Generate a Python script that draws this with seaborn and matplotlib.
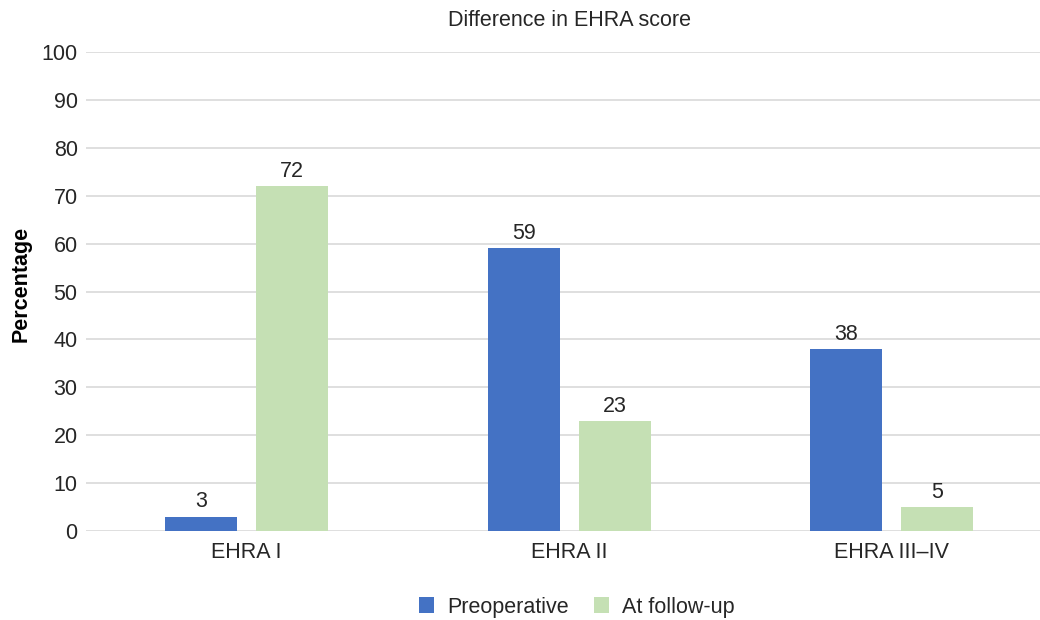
import matplotlib
matplotlib.use("Agg")
import matplotlib.pyplot as plt
import seaborn as sns
import pandas as pd

categories = ["EHRA I", "EHRA II", "EHRA III\u2013IV"]
series_names = ["Preoperative", "At follow-up"]
preoperative = [3, 59, 38]
follow_up = [72, 23, 5]
yticks = list(range(0, 101, 10))

df = pd.DataFrame({
    "category": categories * 2,
    "series": [series_names[0]] * 3 + [series_names[1]] * 3,
    "value": preoperative + follow_up,
})

sns.set_theme(style="white")
plt.rcParams["font.family"] = ["Liberation Sans", "DejaVu Sans"]

FS = 15.5
fig = plt.figure(figsize=(10.4, 6.2), dpi=100)
ax = fig.add_axes([86 / 1040, (620 - 531) / 620, (1040 - 86) / 1040, (531 - 52) / 620])

sns.barplot(data=df, x="category", y="value", hue="series", order=categories,
            hue_order=series_names, palette=["#4472C4", "#C5E0B4"],
            width=0.564, gap=0.21, ax=ax, legend=True, saturation=1, linewidth=0)

for c in ax.containers:
    ax.bar_label(c, fmt="%g", padding=3, fontsize=FS, color="#262626")

ax.set_ylim(0, 100)
ax.set_xlim(-0.498, 2.46)
ax.set_yticks(yticks)
ax.yaxis.grid(True, color="#D9D9D9", linewidth=1.2)
ax.set_axisbelow(True)
for s in ax.spines.values():
    s.set_visible(False)
ax.tick_params(axis="both", length=0, labelsize=FS, colors="#262626")
ax.tick_params(axis="y", pad=6)
ax.tick_params(axis="x", pad=8)
ax.set_xlabel("")
ax.set_ylabel("Percentage", fontsize=FS, fontweight="bold", color="black")
ax.yaxis.set_label_coords(-54 / 954, 0.515)

fig.text(570 / 1040, 1 - 20 / 620, "Difference in EHRA score", ha="center", va="center",
         fontsize=FS, color="#262626")

handles, labels = ax.get_legend_handles_labels()
ax.get_legend().remove()
fig.legend(handles, labels, loc="center", bbox_to_anchor=(577 / 1040, 1 - 607 / 620),
           ncol=2, frameon=False, fontsize=FS, handlelength=0.7, handleheight=0.7,
           handletextpad=0.6, columnspacing=1.2)

fig.savefig("out.png", dpi=100)
